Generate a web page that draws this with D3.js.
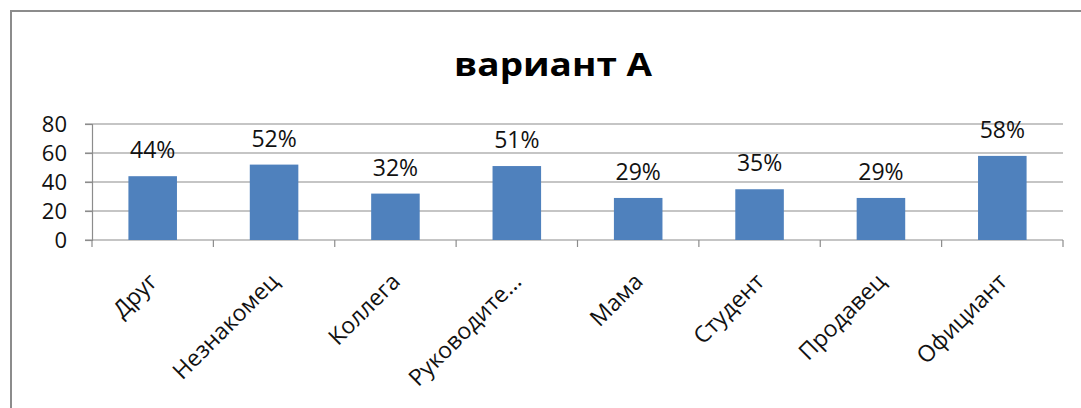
<!DOCTYPE html>
<html>
<head>
<meta charset="utf-8">
<script src="https://cdn.jsdelivr.net/npm/d3@7"></script>
<style>
  body { margin: 0; background: #fff; }
  text { font-family: "Open Sans", "Liberation Sans", sans-serif; }
</style>
</head>
<body>
<script>
var categories = ["Друг", "Незнакомец", "Коллега", "Руководите...", "Мама", "Студент", "Продавец", "Официант"];
var values = [44, 52, 32, 51, 29, 35, 29, 58];
var yTicks = [0, 20, 40, 60, 80];

var width = 1081, height = 408;
var margin = { left: 92, right: 18, top: 124, bottom: 168 };

var svg = d3.select("body").append("svg")
    .attr("width", width)
    .attr("height", height);

// outer chart border
svg.append("rect")
    .attr("x", 11).attr("y", 11)
    .attr("width", width).attr("height", height)
    .attr("fill", "none")
    .attr("stroke", "#8c8c8c")
    .attr("stroke-width", 2);

svg.append("text")
    .attr("x", 553).attr("y", 76)
    .attr("text-anchor", "middle")
    .style("font-size", "33px")
    .style("font-weight", "bold")
    .attr("transform", "translate(553,0) scale(1.12,1) translate(-553,0)")
    .text("вариант А");

var x = d3.scaleBand()
    .domain(categories)
    .range([margin.left, width - margin.right])
    .paddingInner(0.6)
    .paddingOuter(0.3);

var y = d3.scaleLinear()
    .domain([0, 80])
    .range([height - margin.bottom, margin.top]);

// gridlines
svg.append("g")
    .selectAll("line")
    .data(yTicks.slice(1))
    .enter()
    .append("line")
    .attr("x1", margin.left - 7)
    .attr("x2", width - margin.right)
    .attr("y1", function (d) { return y(d); })
    .attr("y2", function (d) { return y(d); })
    .attr("stroke", "#8c8c8c")
    .attr("stroke-width", 1.2);

// y axis
var yAxis = svg.append("g")
    .attr("transform", "translate(" + margin.left + ",0)")
    .call(d3.axisLeft(y).tickValues(yTicks).tickSize(7).tickPadding(18));
yAxis.select(".domain").attr("stroke", "#8c8c8c").attr("stroke-width", 1.2);
yAxis.selectAll(".tick line").attr("stroke", "#8c8c8c").attr("stroke-width", 1.2);
yAxis.selectAll("text")
    .style("font-size", "22px")
    .style("font-family", "'Open Sans', sans-serif")
    .attr("fill", "#111");

// x axis with ticks at category boundaries
var bounds = d3.range(categories.length + 1).map(function (i) {
  return margin.left + i * (width - margin.right - margin.left) / categories.length;
});
svg.append("line")
    .attr("x1", margin.left - 7).attr("x2", width - margin.right)
    .attr("y1", y(0)).attr("y2", y(0))
    .attr("stroke", "#8c8c8c").attr("stroke-width", 1.2);
svg.append("g")
    .selectAll("line")
    .data(bounds)
    .enter()
    .append("line")
    .attr("x1", function (d) { return d; })
    .attr("x2", function (d) { return d; })
    .attr("y1", y(0))
    .attr("y2", y(0) + 7)
    .attr("stroke", "#8c8c8c")
    .attr("stroke-width", 1.2);

// bars
svg.append("g")
    .selectAll("rect")
    .data(values)
    .enter()
    .append("rect")
    .attr("x", function (d, i) { return x(categories[i]); })
    .attr("y", function (d) { return y(d); })
    .attr("width", x.bandwidth())
    .attr("height", function (d) { return y(0) - y(d); })
    .attr("fill", "#4f81bd");

// value labels
svg.append("g")
    .selectAll("text")
    .data(values)
    .enter()
    .append("text")
    .attr("x", function (d, i) { return x(categories[i]) + x.bandwidth() / 2; })
    .attr("y", function (d) { return y(d) - 18; })
    .attr("text-anchor", "middle")
    .style("font-size", "23px")
    .attr("fill", "#111")
    .text(function (d) { return d + "%"; });

// category labels, rotated
svg.append("g")
    .selectAll("text")
    .data(categories)
    .enter()
    .append("text")
    .attr("transform", function (d) {
      return "translate(" + (x(d) + x.bandwidth() / 2 + 6) + "," + (y(0) + 43) + ") rotate(-45)";
    })
    .attr("text-anchor", "end")
    .style("font-size", "23px")
    .attr("fill", "#111")
    .text(function (d) { return d; });
</script>
</body>
</html>
